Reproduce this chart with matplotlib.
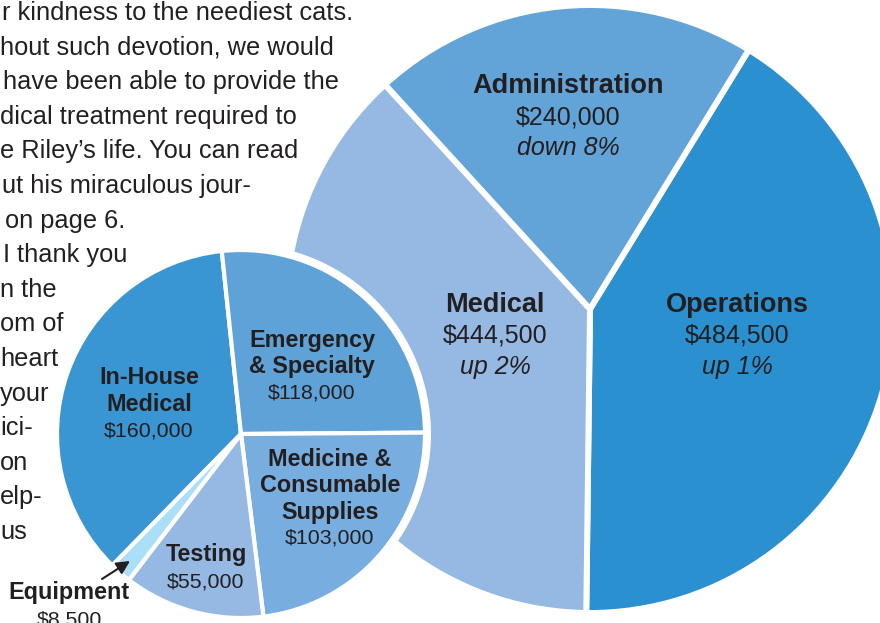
#!/usr/bin/env python3
"""
Budget pie chart: overall expenses with a breakdown of the Medical slice.
"""
import matplotlib
matplotlib.use("Agg")
import matplotlib.pyplot as plt
from matplotlib.patches import Circle

# Overall budget (big pie), drawn clockwise
main_labels = ["Operations", "Medical", "Administration"]
main_values = [484500, 444500, 240000]
main_changes = ["up 1%", "up 2%", "down 8%"]
main_colors = ["#2b90d0", "#95b9e3", "#62a3d8"]

# Medical breakdown (small pie), drawn clockwise
sub_labels = ["In-House\nMedical", "Emergency\n& Specialty",
              "Medicine &\nConsumable\nSupplies", "Testing", "Equipment"]
sub_values = [160000, 118000, 103000, 55000, 8500]
sub_colors = ["#3a96d2", "#5fa2d8", "#78ade0", "#95b9e3", "#aadff7"]

# Body text next to the chart (left part is cut off in the layout)
body_lines = [
    "r kindness to the neediest cats.",
    "hout such devotion, we would",
    "have been able to provide the",
    "dical treatment required to",
    "e Riley\u2019s life. You can read",
    "ut his miraculous jour-",
    "on page 6.",
    "I thank you",
    "n the",
    "om of",
    "heart",
    "your",
    "ici-",
    "on",
    "elp-",
    "us",
]
body_x = [2, 0, 3, 0, 0, 2, 5, 3, 0, 0, 0, 0, 0, 0, 0, 0]

TEXT = "#231f20"
FONT = "Liberation Sans"
W, H = 880, 623


def money(v):
    return "${:,}".format(v)


def py(y):
    """Convert a pixel row (from top) to axis y (from bottom)."""
    return H - y


def main():
    fig = plt.figure(figsize=(8.8, 6.23), dpi=100)
    ax = fig.add_axes([0, 0, 1, 1])

    # body text
    for i, line in enumerate(body_lines):
        ax.text(body_x[i], py(13 + 34.6 * i), line, fontsize=18.3, family=FONT,
                color=TEXT, ha="left", va="center")

    # big pie
    big_c = (590, py(309))
    big_r = 304
    ax.pie(main_values, colors=main_colors, startangle=58.5, counterclock=False,
           center=big_c, radius=big_r, frame=True,
           wedgeprops=dict(edgecolor="white", linewidth=4.3))

    main_pos = {"Operations": (737, 305), "Medical": (495, 305),
                "Administration": (568, 86)}
    for lab, val, chg in zip(main_labels, main_values, main_changes):
        x, y = main_pos[lab]
        ax.text(x, py(y), lab, fontsize=19.5, fontweight="bold", family=FONT,
                color=TEXT, ha="center", va="center")
        ax.text(x, py(y + 31), money(val), fontsize=18, family=FONT,
                color=TEXT, ha="center", va="center")
        ax.text(x, py(y + 62), chg, fontsize=18, style="italic", family=FONT,
                color=TEXT, ha="center", va="center")

    # small pie with a white ring around it
    sub_c = (241, py(434))
    sub_r = 184
    ax.add_patch(Circle(sub_c, sub_r + 6, facecolor="white", edgecolor="none",
                        zorder=2))
    sub_total = sum(sub_values)
    sub_start = 96 + 360 * sub_values[0] / sub_total
    wedges, _ = ax.pie(sub_values, colors=sub_colors, startangle=sub_start,
                       counterclock=False, center=sub_c, radius=sub_r,
                       frame=True,
                       wedgeprops=dict(edgecolor="white", linewidth=3))
    for w in wedges:
        w.set_zorder(3)

    sub_pos = [(149, 378), (312, 340), (330, 459), (206, 555), (69, 593)]
    line_h = 26.5
    for lab, val, (x, y) in zip(sub_labels, sub_values, sub_pos):
        n = lab.count("\n") + 1
        for j, part in enumerate(lab.split("\n")):
            ax.text(x, py(y + j * line_h), part, fontsize=16.8, fontweight="bold",
                    family=FONT, color=TEXT, ha="center", va="center",
                    zorder=5)
        ax.text(x, py(y + n * line_h), money(val), fontsize=15.4, family=FONT,
                color=TEXT, ha="center", va="center", zorder=5)

    # arrow pointing at the thin Equipment slice
    ax.annotate("", xy=(130, py(561)), xytext=(102, py(579)),
                arrowprops=dict(arrowstyle="-|>", color=TEXT, lw=1.5,
                                mutation_scale=20, shrinkA=0, shrinkB=0),
                zorder=6)

    ax.set_xlim(0, W)
    ax.set_ylim(0, H)
    ax.set_aspect("equal")
    ax.axis("off")

    fig.savefig("out.png", dpi=100)


if __name__ == "__main__":
    main()
